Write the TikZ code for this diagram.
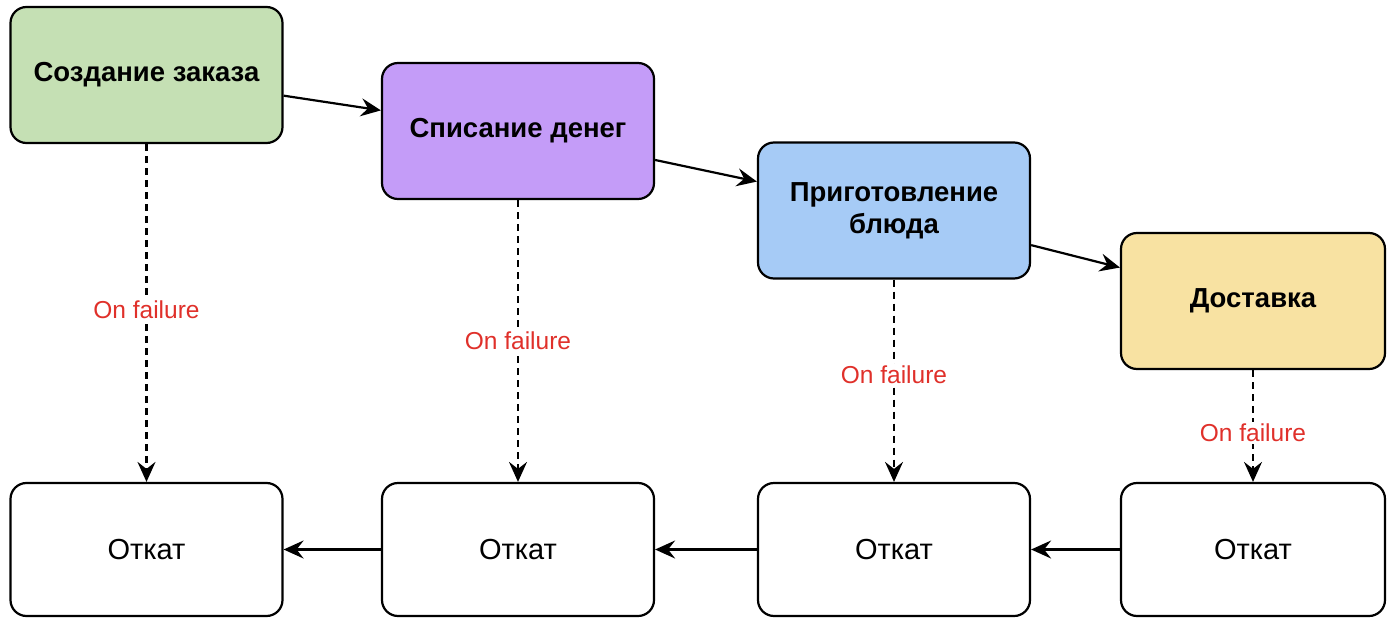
\documentclass[tikz,border=0pt]{standalone}
\usepackage{fontspec}
\setmainfont{Liberation Sans}
\usetikzlibrary{arrows.meta}
\definecolor{stepgreen}{HTML}{C5E0B4}
\definecolor{steppurple}{HTML}{C49CF8}
\definecolor{stepblue}{HTML}{A6CBF6}
\definecolor{stepyellow}{HTML}{F8E2A2}
\definecolor{failred}{HTML}{E0302A}
\tikzset{
  x=1pt, y=1pt,
  stepbox/.style={draw=black, line width=2.2pt, rounded corners=16pt,
    minimum width=272pt, minimum height=136pt, align=center,
    font=\fontsize{27.5}{32}\selectfont\bfseries, inner sep=0pt},
  undobox/.style={draw=black, line width=2.2pt, rounded corners=16pt, fill=white,
    minimum width=272pt, minimum height=133pt,
    font=\fontsize{29}{32}\selectfont, inner sep=0pt},
  flow/.style={line width=2.2pt, -{Stealth[length=20pt,width=18pt,inset=7pt]}},
  fail/.style={line width=2.2pt, dash pattern=on 7pt off 5pt,
    -{Stealth[length=20pt,width=18pt,inset=7pt]}},
  faillabel/.style={fill=white, text=failred, inner sep=2pt,
    font=\fontsize{24.5}{28}\selectfont}
}
\begin{document}
\begin{tikzpicture}
\useasboundingbox (0,0) rectangle (1387,-618);
% forward steps
\node[stepbox, fill=stepgreen]  (b1) at (146.5,-75)   {Создание заказа};
\node[stepbox, fill=steppurple] (b2) at (518,-131)    {Списание денег};
\node[stepbox, fill=stepblue]   (b3) at (894,-210.5)  {Приготовление\\[0pt]блюда};
\node[stepbox, fill=stepyellow, minimum width=264pt] (b4) at (1253,-301) {Доставка};
% compensating steps
\node[undobox] (r1) at (146.5,-549.5) {Откат};
\node[undobox] (r2) at (518,-549.5)   {Откат};
\node[undobox] (r3) at (894,-549.5)   {Откат};
\node[undobox, minimum width=264pt] (r4) at (1253,-549.5) {Откат};
% forward flow
\draw[flow] (b1) -- (b2);
\draw[flow] (b2) -- (b3);
\draw[flow] (b3) -- (b4);
% failure branches
\draw[fail] (b1) -- node[faillabel, pos=0.49] {On failure} (r1);
\draw[fail] (b2) -- node[faillabel, pos=0.50] {On failure} (r2);
\draw[fail] (b3) -- node[faillabel, pos=0.47] {On failure} (r3);
\draw[fail] (b4) -- node[faillabel, pos=0.56] {On failure} (r4);
% rollback chain
\draw[flow] (r2) -- (r1);
\draw[flow] (r3) -- (r2);
\draw[flow] (r4) -- (r3);
\end{tikzpicture}
\end{document}
